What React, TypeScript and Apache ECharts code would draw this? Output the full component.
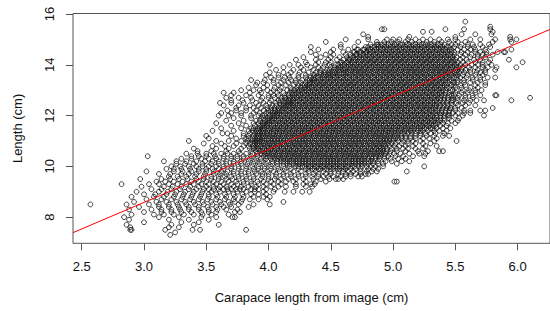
import React, { useEffect, useRef } from 'react';
import * as echarts from 'echarts';

const xTicks = [2.5, 3.0, 3.5, 4.0, 4.5, 5.0, 5.5, 6.0];
const yTicks = [8, 10, 12, 14, 16];
const xRange = [2.43, 6.26];
const yRange = [6.97, 16.02];
const fitIntercept = 2.31;
const fitSlope = 2.09;

// [length (cm), carapace lengths from image (cm)]
const upperBand: [number, number[]][] = [
  [15.7, [5.58]],
  [15.5, [5.78]],
  [15.4, [4.91, 4.93, 5.42, 5.57, 5.78]],
  [15.3, [5.24, 5.31, 5.80]],
  [15.2, [4.76, 5.55, 5.66, 5.79]],
  [15.1, [4.80, 5.13, 5.50, 5.94]],
  [15.0, [4.62, 4.80, 4.95, 5.00, 5.05, 5.12, 5.18, 5.24, 5.30, 5.37, 5.44, 5.50, 5.62, 5.70, 5.82, 5.94, 5.99]],
  [14.9, [4.46, 4.72, 4.87, 4.93, 4.99, 5.04, 5.10, 5.15, 5.21, 5.27, 5.33, 5.39, 5.45, 5.52, 5.58, 5.80, 5.95]],
  [14.8, [4.58, 4.82, 4.87, 4.91, 4.96, 5.01, 5.06, 5.11, 5.16, 5.21, 5.26, 5.31, 5.36, 5.41, 5.47, 5.55, 5.64, 5.77]],
  [14.7, [4.34, 4.58, 4.69, 4.78, 4.83, 4.88, 4.93, 4.98, 5.03, 5.08, 5.13, 5.18, 5.23, 5.28, 5.33, 5.38, 5.43, 5.49, 5.60, 5.78]],
  [14.6, [4.64, 4.71, 4.76, 4.80, 4.85, 4.90, 4.95, 5.00, 5.05, 5.10, 5.15, 5.20, 5.25, 5.30, 5.35, 5.40, 5.45, 5.52, 5.66, 5.95]],
  [14.5, [4.34, 4.50, 4.60, 4.68, 4.73, 4.78, 4.82, 4.87, 4.92, 4.97, 5.02, 5.07, 5.12, 5.17, 5.22, 5.27, 5.32, 5.37, 5.42, 5.47, 5.55, 5.75, 5.84, 5.89, 5.90]],
  [14.4, [4.52, 4.62, 4.70, 4.74, 4.79, 4.84, 4.89, 4.94, 4.99, 5.04, 5.09, 5.14, 5.19, 5.24, 5.29, 5.34, 5.39, 5.44, 5.49, 5.58, 5.68, 5.75]],
  [14.3, [4.42, 4.57, 4.66, 4.71, 4.76, 4.81, 4.86, 4.91, 4.96, 5.01, 5.06, 5.11, 5.16, 5.21, 5.26, 5.31, 5.36, 5.41, 5.46, 5.51, 5.62]],
  [14.2, [4.48, 4.60, 4.64, 4.68, 4.73, 4.78, 4.83, 4.88, 4.93, 4.98, 5.03, 5.08, 5.13, 5.18, 5.23, 5.28, 5.33, 5.38, 5.43, 5.48, 5.54, 5.65, 5.93]],
  [14.1, [4.30, 4.50, 4.58, 4.63, 4.67, 4.72, 4.77, 4.82, 4.87, 4.92, 4.97, 5.02, 5.07, 5.12, 5.17, 5.22, 5.27, 5.32, 5.37, 5.42, 5.47, 5.52, 5.60, 5.77, 6.04]],
  [14.0, [4.01, 4.17, 4.31, 4.45, 4.54, 4.59, 4.64, 4.69, 4.74, 4.79, 4.84, 4.89, 4.94, 4.99, 5.04, 5.09, 5.14, 5.19, 5.24, 5.29, 5.34, 5.39, 5.44, 5.49, 5.54, 5.63, 5.72]],
  [13.9, [4.44, 4.50, 4.56, 4.61, 4.66, 4.71, 4.76, 4.81, 4.86, 4.91, 4.96, 5.01, 5.06, 5.11, 5.16, 5.21, 5.26, 5.31, 5.36, 5.41, 5.46, 5.51, 5.56, 5.66, 5.83, 5.99]],
  [13.8, [4.36, 4.47, 4.52, 4.56, 4.60, 4.65, 4.70, 4.75, 4.80, 4.85, 4.90, 4.95, 5.00, 5.05, 5.10, 5.15, 5.20, 5.25, 5.30, 5.35, 5.40, 5.45, 5.50, 5.58, 5.68, 5.82]],
  [13.7, [4.01, 4.25, 4.38, 4.46, 4.51, 4.55, 4.60, 4.64, 4.69, 4.74, 4.79, 4.84, 4.89, 4.94, 4.99, 5.04, 5.09, 5.14, 5.19, 5.24, 5.29, 5.34, 5.39, 5.44, 5.49, 5.53, 5.62, 5.74]],
  [13.6, [4.30, 4.42, 4.46, 4.50, 4.55, 4.60, 4.65, 4.70, 4.75, 4.80, 4.85, 4.90, 4.95, 5.00, 5.05, 5.10, 5.15, 5.20, 5.25, 5.30, 5.35, 5.40, 5.45, 5.50, 5.56, 5.66]],
  [13.5, [4.13, 4.17, 4.30, 4.34, 4.38, 4.43, 4.48, 4.53, 4.58, 4.63, 4.68, 4.73, 4.78, 4.83, 4.88, 4.93, 4.98, 5.03, 5.08, 5.13, 5.18, 5.23, 5.28, 5.33, 5.38, 5.43, 5.49, 5.59, 5.70, 5.82]],
  [13.4, [3.97, 4.22, 4.31, 4.35, 4.40, 4.45, 4.50, 4.55, 4.60, 4.65, 4.70, 4.75, 4.80, 4.85, 4.90, 4.95, 5.00, 5.05, 5.10, 5.15, 5.20, 5.25, 5.30, 5.35, 5.40, 5.45, 5.52, 5.64]],
  [13.3, [3.91, 4.10, 4.26, 4.33, 4.37, 4.42, 4.47, 4.52, 4.57, 4.62, 4.67, 4.72, 4.77, 4.82, 4.87, 4.92, 4.97, 5.02, 5.07, 5.12, 5.17, 5.22, 5.27, 5.32, 5.37, 5.42, 5.48, 5.57, 5.68]],
  [13.2, [4.20, 4.27, 4.31, 4.36, 4.41, 4.46, 4.51, 4.56, 4.61, 4.66, 4.71, 4.76, 4.81, 4.86, 4.91, 4.96, 5.01, 5.06, 5.11, 5.16, 5.21, 5.26, 5.31, 5.36, 5.41, 5.47, 5.54, 5.74]],
  [13.1, [4.05, 4.18, 4.29, 4.33, 4.38, 4.43, 4.48, 4.53, 4.58, 4.63, 4.68, 4.73, 4.78, 4.83, 4.88, 4.93, 4.98, 5.03, 5.08, 5.13, 5.18, 5.23, 5.28, 5.33, 5.38, 5.43, 5.50, 5.62]],
  [13.0, [3.93, 4.04, 4.15, 4.21, 4.25, 4.30, 4.35, 4.40, 4.45, 4.50, 4.55, 4.60, 4.65, 4.70, 4.75, 4.80, 4.85, 4.90, 4.95, 5.00, 5.05, 5.10, 5.15, 5.20, 5.25, 5.30, 5.35, 5.40, 5.46, 5.56, 5.66]],
];

const middleBand: [number, number[]][] = [
  [12.9, [3.64, 4.12, 4.22, 4.27, 4.32, 4.37, 4.42, 4.47, 4.52, 4.57, 4.62, 4.67, 4.72, 4.77, 4.82, 4.87, 4.92, 4.97, 5.02, 5.07, 5.12, 5.17, 5.22, 5.27, 5.32, 5.37, 5.42, 5.50, 5.60]],
  [12.8, [4.00, 4.08, 4.19, 4.24, 4.29, 4.34, 4.39, 4.44, 4.49, 4.54, 4.59, 4.64, 4.69, 4.74, 4.79, 4.84, 4.89, 4.94, 4.99, 5.04, 5.09, 5.14, 5.19, 5.24, 5.29, 5.34, 5.39, 5.45, 5.53, 5.64, 5.82, 5.83]],
  [12.7, [3.95, 4.10, 4.17, 4.21, 4.26, 4.31, 4.36, 4.41, 4.46, 4.51, 4.56, 4.61, 4.66, 4.71, 4.76, 4.81, 4.86, 4.91, 4.96, 5.01, 5.06, 5.11, 5.16, 5.21, 5.26, 5.31, 5.36, 5.41, 5.48, 5.58, 6.10]],
  [12.6, [3.79, 3.87, 4.02, 4.14, 4.18, 4.23, 4.28, 4.33, 4.38, 4.43, 4.48, 4.53, 4.58, 4.63, 4.68, 4.73, 4.78, 4.83, 4.88, 4.93, 4.98, 5.03, 5.08, 5.13, 5.18, 5.23, 5.28, 5.33, 5.38, 5.44, 5.52, 5.62, 5.73, 5.95]],
  [12.5, [3.61, 3.90, 4.06, 4.12, 4.16, 4.20, 4.25, 4.30, 4.35, 4.40, 4.45, 4.50, 4.55, 4.60, 4.65, 4.70, 4.75, 4.80, 4.85, 4.90, 4.95, 5.00, 5.05, 5.10, 5.15, 5.20, 5.25, 5.30, 5.35, 5.40, 5.47, 5.56]],
  [12.4, [3.85, 3.98, 4.10, 4.14, 4.18, 4.23, 4.28, 4.33, 4.38, 4.43, 4.48, 4.53, 4.58, 4.63, 4.68, 4.73, 4.78, 4.83, 4.88, 4.93, 4.98, 5.03, 5.08, 5.13, 5.18, 5.23, 5.28, 5.33, 5.38, 5.44, 5.52, 5.66]],
  [12.3, [3.74, 3.94, 4.02, 4.08, 4.12, 4.17, 4.22, 4.27, 4.32, 4.37, 4.42, 4.47, 4.52, 4.57, 4.62, 4.67, 4.72, 4.77, 4.82, 4.87, 4.92, 4.97, 5.02, 5.07, 5.12, 5.17, 5.22, 5.27, 5.32, 5.37, 5.43, 5.50, 5.80]],
  [12.2, [3.67, 3.82, 3.96, 4.05, 4.09, 4.14, 4.19, 4.24, 4.29, 4.34, 4.39, 4.44, 4.49, 4.54, 4.59, 4.64, 4.69, 4.74, 4.79, 4.84, 4.89, 4.94, 4.99, 5.04, 5.09, 5.14, 5.19, 5.24, 5.29, 5.34, 5.39, 5.45, 5.62, 5.70, 5.74]],
  [12.1, [3.70, 3.88, 3.98, 4.03, 4.07, 4.12, 4.17, 4.22, 4.27, 4.32, 4.37, 4.42, 4.47, 4.52, 4.57, 4.62, 4.67, 4.72, 4.77, 4.82, 4.87, 4.92, 4.97, 5.02, 5.07, 5.12, 5.17, 5.22, 5.27, 5.32, 5.37, 5.42, 5.48, 5.57, 5.62]],
  [12.0, [3.60, 3.78, 3.92, 4.01, 4.05, 4.10, 4.15, 4.20, 4.25, 4.30, 4.35, 4.40, 4.45, 4.50, 4.55, 4.60, 4.65, 4.70, 4.75, 4.80, 4.85, 4.90, 4.95, 5.00, 5.05, 5.10, 5.15, 5.20, 5.25, 5.30, 5.35, 5.41, 5.50, 5.73]],
  [11.9, [3.72, 3.86, 3.94, 3.99, 4.03, 4.08, 4.13, 4.18, 4.23, 4.28, 4.33, 4.38, 4.43, 4.48, 4.53, 4.58, 4.63, 4.68, 4.73, 4.78, 4.83, 4.88, 4.93, 4.98, 5.03, 5.08, 5.13, 5.18, 5.23, 5.28, 5.33, 5.38, 5.45, 5.53]],
  [11.8, [3.66, 3.80, 3.90, 3.97, 4.01, 4.06, 4.11, 4.16, 4.21, 4.26, 4.31, 4.36, 4.41, 4.46, 4.51, 4.56, 4.61, 4.66, 4.71, 4.76, 4.81, 4.86, 4.91, 4.96, 5.01, 5.06, 5.11, 5.16, 5.21, 5.26, 5.31, 5.36, 5.41, 5.47]],
  [11.7, [3.58, 3.76, 3.88, 3.95, 3.99, 4.04, 4.09, 4.14, 4.19, 4.24, 4.29, 4.34, 4.39, 4.44, 4.49, 4.54, 4.59, 4.64, 4.69, 4.74, 4.79, 4.84, 4.89, 4.94, 4.99, 5.04, 5.09, 5.14, 5.19, 5.24, 5.29, 5.34, 5.40]],
  [11.6, [3.70, 3.82, 3.93, 3.97, 4.02, 4.07, 4.12, 4.17, 4.22, 4.27, 4.32, 4.37, 4.42, 4.47, 4.52, 4.57, 4.62, 4.67, 4.72, 4.77, 4.82, 4.87, 4.92, 4.97, 5.02, 5.07, 5.12, 5.17, 5.22, 5.27, 5.32, 5.38]],
  [11.5, [3.62, 3.78, 3.86, 3.91, 3.95, 4.00, 4.05, 4.10, 4.15, 4.20, 4.25, 4.30, 4.35, 4.40, 4.45, 4.50, 4.55, 4.60, 4.65, 4.70, 4.75, 4.80, 4.85, 4.90, 4.95, 5.00, 5.05, 5.10, 5.15, 5.20, 5.25, 5.30, 5.35]],
  [11.4, [3.55, 3.72, 3.84, 3.90, 3.94, 3.99, 4.04, 4.09, 4.14, 4.19, 4.24, 4.29, 4.34, 4.39, 4.44, 4.49, 4.54, 4.59, 4.64, 4.69, 4.74, 4.79, 4.84, 4.89, 4.94, 4.99, 5.04, 5.09, 5.14, 5.20, 5.28, 5.43]],
  [11.3, [3.63, 3.67, 3.80, 3.89, 3.93, 3.97, 4.02, 4.07, 4.12, 4.17, 4.22, 4.27, 4.32, 4.37, 4.42, 4.47, 4.52, 4.57, 4.62, 4.67, 4.72, 4.77, 4.82, 4.87, 4.92, 4.97, 5.02, 5.07, 5.12, 5.18, 5.26, 5.34, 5.41]],
  [11.2, [3.50, 3.70, 3.80, 3.88, 3.92, 3.96, 4.01, 4.06, 4.11, 4.16, 4.21, 4.26, 4.31, 4.36, 4.41, 4.46, 4.51, 4.56, 4.61, 4.66, 4.71, 4.76, 4.81, 4.86, 4.91, 4.96, 5.01, 5.07, 5.14, 5.22, 5.33, 5.45]],
  [11.1, [3.52, 3.74, 3.82, 3.87, 3.91, 3.95, 4.00, 4.05, 4.10, 4.15, 4.20, 4.25, 4.30, 4.35, 4.40, 4.45, 4.50, 4.55, 4.60, 4.65, 4.70, 4.75, 4.80, 4.85, 4.90, 4.95, 5.00, 5.04, 5.10, 5.18, 5.35]],
  [11.0, [3.36, 3.58, 3.68, 3.78, 3.87, 3.91, 3.95, 4.00, 4.05, 4.10, 4.15, 4.20, 4.25, 4.30, 4.35, 4.40, 4.45, 4.50, 4.55, 4.60, 4.65, 4.70, 4.75, 4.80, 4.85, 4.90, 4.95, 5.00, 5.08, 5.16, 5.51]],
  [10.9, [3.48, 3.62, 3.74, 3.82, 3.87, 3.91, 3.96, 4.01, 4.06, 4.11, 4.16, 4.21, 4.26, 4.31, 4.36, 4.41, 4.46, 4.51, 4.56, 4.61, 4.66, 4.71, 4.76, 4.81, 4.86, 4.91, 4.96, 5.02, 5.12, 5.24]],
  [10.8, [3.55, 3.65, 3.72, 3.80, 3.88, 3.92, 3.97, 4.02, 4.07, 4.12, 4.17, 4.22, 4.27, 4.32, 4.37, 4.42, 4.47, 4.52, 4.57, 4.62, 4.67, 4.72, 4.77, 4.82, 4.87, 4.92, 4.97, 5.05, 5.26]],
  [10.7, [3.40, 3.58, 3.68, 3.78, 3.85, 3.90, 3.95, 4.00, 4.05, 4.10, 4.15, 4.20, 4.25, 4.30, 4.35, 4.40, 4.45, 4.50, 4.55, 4.60, 4.65, 4.70, 4.75, 4.80, 4.85, 4.90, 4.95, 5.03, 5.18]],
  [10.6, [3.43, 3.54, 3.66, 3.76, 3.86, 3.93, 3.98, 4.03, 4.08, 4.13, 4.18, 4.23, 4.28, 4.33, 4.38, 4.43, 4.48, 4.53, 4.58, 4.63, 4.68, 4.73, 4.78, 4.83, 4.88, 4.92, 4.98, 5.10, 5.37, 5.40]],
  [10.5, [3.43, 3.56, 3.62, 3.72, 3.82, 3.91, 3.97, 4.02, 4.07, 4.12, 4.17, 4.22, 4.27, 4.32, 4.37, 4.42, 4.47, 4.52, 4.57, 4.62, 4.67, 4.72, 4.77, 4.82, 4.87, 4.91, 4.97, 5.06, 5.26]],
  [10.4, [3.03, 3.38, 3.50, 3.64, 3.75, 3.86, 3.96, 4.01, 4.06, 4.11, 4.16, 4.21, 4.26, 4.31, 4.36, 4.41, 4.46, 4.51, 4.56, 4.61, 4.66, 4.71, 4.76, 4.81, 4.86, 4.90, 4.96, 5.16, 5.25]],
  [10.3, [3.30, 3.46, 3.58, 3.70, 3.80, 3.90, 3.98, 4.05, 4.10, 4.15, 4.20, 4.25, 4.30, 4.35, 4.40, 4.45, 4.50, 4.55, 4.60, 4.65, 4.70, 4.75, 4.80, 4.86, 4.93, 5.04]],
  [10.2, [3.16, 3.34, 3.49, 3.60, 3.72, 3.84, 3.94, 4.03, 4.10, 4.15, 4.20, 4.25, 4.30, 4.35, 4.40, 4.45, 4.50, 4.55, 4.60, 4.65, 4.70, 4.75, 4.80, 4.84, 4.99, 5.07]],
  [10.1, [3.26, 3.40, 3.54, 3.66, 3.78, 3.88, 3.98, 4.07, 4.15, 4.20, 4.25, 4.30, 4.35, 4.40, 4.45, 4.50, 4.55, 4.60, 4.65, 4.70, 4.75, 4.80, 4.88]],
  [10.0, [3.22, 3.36, 3.47, 3.58, 3.70, 3.82, 3.92, 4.02, 4.12, 4.22, 4.27, 4.32, 4.37, 4.42, 4.47, 4.52, 4.57, 4.62, 4.67, 4.72, 4.79, 4.86, 5.25]],
];

const lowerBand: [number, number[]][] = [
  [9.9, [3.18, 3.30, 3.44, 3.55, 3.64, 3.76, 3.88, 3.97, 4.08, 4.18, 4.30, 4.35, 4.40, 4.45, 4.50, 4.55, 4.60, 4.66, 4.74, 4.88]],
  [9.8, [3.02, 3.24, 3.38, 3.50, 3.62, 3.72, 3.84, 3.94, 4.04, 4.14, 4.26, 4.38, 4.44, 4.50, 4.56, 4.64, 4.79, 4.87, 5.11]],
  [9.7, [3.12, 3.30, 3.42, 3.56, 3.66, 3.78, 3.90, 4.00, 4.12, 4.24, 4.36, 4.46, 4.56, 4.70, 4.78, 4.80]],
  [9.6, [3.20, 3.34, 3.48, 3.60, 3.70, 3.82, 3.95, 4.06, 4.18, 4.30, 4.40, 4.52, 4.66, 4.72, 4.75]],
  [9.5, [2.97, 3.14, 3.28, 3.42, 3.54, 3.66, 3.76, 3.88, 4.00, 4.10, 4.22, 4.36, 4.49, 4.54, 4.56]],
  [9.4, [3.10, 3.24, 3.38, 3.50, 3.62, 3.74, 3.86, 3.96, 4.08, 4.20, 5.01, 5.03]],
  [9.3, [2.82, 3.04, 3.20, 3.34, 3.46, 3.58, 3.70, 3.80, 3.92, 4.04, 4.22, 4.34, 4.37]],
  [9.2, [2.98, 3.16, 3.30, 3.44, 3.56, 3.66, 3.78, 3.90, 4.02, 4.14, 4.22]],
  [9.1, [3.06, 3.22, 3.36, 3.48, 3.52, 3.60, 3.64, 3.70, 3.74, 3.80, 3.86, 3.92, 4.05]],
  [9.0, [2.94, 3.12, 3.26, 3.40, 3.54, 3.68, 3.82, 3.96, 4.13, 4.33]],
  [8.9, [3.00, 3.18, 3.32, 3.46, 3.58, 3.72, 3.86, 3.98]],
  [8.8, [2.90, 3.08, 3.24, 3.38, 3.52, 3.66, 3.80, 3.96, 4.01]],
  [8.7, [3.02, 3.14, 3.30, 3.44, 3.58, 3.72, 3.85, 3.92, 3.99]],
  [8.6, [2.92, 3.10, 3.26, 3.40, 3.54, 3.68, 3.78, 4.12]],
  [8.5, [2.57, 2.86, 3.04, 3.20, 3.34, 3.48, 3.62, 3.76, 3.88, 4.01]],
  [8.4, [2.96, 3.12, 3.28, 3.44, 3.58, 3.70, 3.84]],
  [8.3, [2.88, 3.06, 3.22, 3.36, 3.52, 3.66, 3.75]],
  [8.2, [3.00, 3.14, 3.30, 3.46, 3.58, 3.73, 3.77]],
  [8.1, [2.90, 3.08, 3.24, 3.40, 3.54, 3.68]],
  [8.0, [2.84, 3.12, 3.28, 3.46, 3.58, 3.71, 3.73]],
  [7.9, [2.88, 3.20, 3.36, 3.52]],
  [7.8, [3.00, 3.30, 3.44]],
  [7.7, [2.86, 3.22, 3.40, 3.60]],
  [7.6, [2.89, 3.20, 3.28]],
  [7.5, [2.89, 2.90, 3.17, 3.39, 3.45, 3.82]],
  [7.4, [3.25]],
  [7.3, [3.21]],
];

const coreUpper: [number, number[]][] = [
  [14.8, [4.88, 4.93, 4.98, 5.03, 5.08, 5.13, 5.18, 5.23, 5.28, 5.33, 5.38]],
  [14.7, [4.80, 4.85, 4.90, 4.95, 5.00, 5.05, 5.10, 5.15, 5.20, 5.25, 5.30, 5.35, 5.40, 5.45]],
  [14.6, [4.72, 4.77, 4.82, 4.87, 4.92, 4.97, 5.02, 5.07, 5.12, 5.17, 5.22, 5.27, 5.32, 5.37, 5.42, 5.47]],
  [14.5, [4.69, 4.74, 4.79, 4.84, 4.89, 4.94, 4.99, 5.04, 5.09, 5.14, 5.19, 5.24, 5.29, 5.34, 5.39, 5.44, 5.49]],
  [14.4, [4.66, 4.71, 4.76, 4.81, 4.86, 4.91, 4.96, 5.01, 5.06, 5.11, 5.16, 5.21, 5.26, 5.31, 5.36, 5.41, 5.46]],
  [14.3, [4.63, 4.68, 4.73, 4.78, 4.83, 4.88, 4.93, 4.98, 5.03, 5.08, 5.13, 5.18, 5.23, 5.28, 5.33, 5.38, 5.43, 5.48]],
  [14.2, [4.65, 4.70, 4.75, 4.80, 4.85, 4.90, 4.95, 5.00, 5.05, 5.10, 5.15, 5.20, 5.25, 5.30, 5.35, 5.40, 5.45, 5.50]],
  [14.1, [4.59, 4.64, 4.69, 4.74, 4.79, 4.84, 4.89, 4.94, 4.99, 5.04, 5.09, 5.14, 5.19, 5.24, 5.29, 5.34, 5.39, 5.44, 5.49]],
  [14.0, [4.56, 4.61, 4.66, 4.71, 4.76, 4.81, 4.86, 4.91, 4.96, 5.01, 5.06, 5.11, 5.16, 5.21, 5.26, 5.31, 5.36, 5.41, 5.46, 5.51]],
  [13.9, [4.53, 4.58, 4.63, 4.68, 4.73, 4.78, 4.83, 4.88, 4.93, 4.98, 5.03, 5.08, 5.13, 5.18, 5.23, 5.28, 5.33, 5.38, 5.43, 5.48, 5.53]],
  [13.8, [4.49, 4.54, 4.58, 4.62, 4.67, 4.72, 4.77, 4.82, 4.87, 4.92, 4.97, 5.02, 5.07, 5.12, 5.17, 5.22, 5.27, 5.32, 5.37, 5.42, 5.47, 5.52]],
  [13.7, [4.42, 4.48, 4.53, 4.57, 4.62, 4.66, 4.71, 4.76, 4.81, 4.86, 4.91, 4.96, 5.01, 5.06, 5.11, 5.16, 5.21, 5.26, 5.31, 5.36, 5.41, 5.46, 5.51]],
  [13.6, [4.37, 4.44, 4.48, 4.52, 4.57, 4.62, 4.67, 4.72, 4.77, 4.82, 4.87, 4.92, 4.97, 5.02, 5.07, 5.12, 5.17, 5.22, 5.27, 5.32, 5.37, 5.42, 5.47, 5.52]],
  [13.5, [4.36, 4.40, 4.45, 4.50, 4.55, 4.60, 4.65, 4.70, 4.75, 4.80, 4.85, 4.90, 4.95, 5.00, 5.05, 5.10, 5.15, 5.20, 5.25, 5.30, 5.35, 5.40, 5.45, 5.51]],
  [13.4, [4.33, 4.37, 4.42, 4.47, 4.52, 4.57, 4.62, 4.67, 4.72, 4.77, 4.82, 4.87, 4.92, 4.97, 5.02, 5.07, 5.12, 5.17, 5.22, 5.27, 5.32, 5.37, 5.42, 5.47]],
  [13.3, [4.30, 4.35, 4.39, 4.44, 4.49, 4.54, 4.59, 4.64, 4.69, 4.74, 4.79, 4.84, 4.89, 4.94, 4.99, 5.04, 5.09, 5.14, 5.19, 5.24, 5.29, 5.34, 5.39, 5.44, 5.49]],
  [13.2, [4.29, 4.33, 4.38, 4.43, 4.48, 4.53, 4.58, 4.63, 4.68, 4.73, 4.78, 4.83, 4.88, 4.93, 4.98, 5.03, 5.08, 5.13, 5.18, 5.23, 5.28, 5.33, 5.38, 5.43, 5.49]],
  [13.1, [4.26, 4.31, 4.35, 4.40, 4.45, 4.50, 4.55, 4.60, 4.65, 4.70, 4.75, 4.80, 4.85, 4.90, 4.95, 5.00, 5.05, 5.10, 5.15, 5.20, 5.25, 5.30, 5.35, 5.40, 5.45]],
  [13.0, [4.23, 4.27, 4.32, 4.37, 4.42, 4.47, 4.52, 4.57, 4.62, 4.67, 4.72, 4.77, 4.82, 4.87, 4.92, 4.97, 5.02, 5.07, 5.12, 5.17, 5.22, 5.27, 5.32, 5.37, 5.42, 5.48]],
  [12.9, [4.19, 4.24, 4.29, 4.34, 4.39, 4.44, 4.49, 4.54, 4.59, 4.64, 4.69, 4.74, 4.79, 4.84, 4.89, 4.94, 4.99, 5.04, 5.09, 5.14, 5.19, 5.24, 5.29, 5.34, 5.39, 5.45]],
  [12.8, [4.16, 4.21, 4.26, 4.31, 4.36, 4.41, 4.46, 4.51, 4.56, 4.61, 4.66, 4.71, 4.76, 4.81, 4.86, 4.91, 4.96, 5.01, 5.06, 5.11, 5.16, 5.21, 5.26, 5.31, 5.36, 5.41, 5.47]],
  [12.7, [4.13, 4.19, 4.23, 4.28, 4.33, 4.38, 4.43, 4.48, 4.53, 4.58, 4.63, 4.68, 4.73, 4.78, 4.83, 4.88, 4.93, 4.98, 5.03, 5.08, 5.13, 5.18, 5.23, 5.28, 5.33, 5.38, 5.44]],
  [12.6, [4.10, 4.16, 4.20, 4.25, 4.30, 4.35, 4.40, 4.45, 4.50, 4.55, 4.60, 4.65, 4.70, 4.75, 4.80, 4.85, 4.90, 4.95, 5.00, 5.05, 5.10, 5.15, 5.20, 5.25, 5.30, 5.35, 5.41, 5.47]],
  [12.5, [4.09, 4.14, 4.18, 4.22, 4.27, 4.32, 4.37, 4.42, 4.47, 4.52, 4.57, 4.62, 4.67, 4.72, 4.77, 4.82, 4.87, 4.92, 4.97, 5.02, 5.07, 5.12, 5.17, 5.22, 5.27, 5.32, 5.37, 5.43]],
  [12.4, [4.06, 4.12, 4.16, 4.20, 4.25, 4.30, 4.35, 4.40, 4.45, 4.50, 4.55, 4.60, 4.65, 4.70, 4.75, 4.80, 4.85, 4.90, 4.95, 5.00, 5.05, 5.10, 5.15, 5.20, 5.25, 5.30, 5.35, 5.41]],
  [12.3, [4.05, 4.10, 4.14, 4.19, 4.24, 4.29, 4.34, 4.39, 4.44, 4.49, 4.54, 4.59, 4.64, 4.69, 4.74, 4.79, 4.84, 4.89, 4.94, 4.99, 5.04, 5.09, 5.14, 5.19, 5.24, 5.29, 5.34, 5.40, 5.46]],
  [12.2, [4.02, 4.07, 4.11, 4.16, 4.21, 4.26, 4.31, 4.36, 4.41, 4.46, 4.51, 4.56, 4.61, 4.66, 4.71, 4.76, 4.81, 4.86, 4.91, 4.96, 5.01, 5.06, 5.11, 5.16, 5.21, 5.26, 5.31, 5.36, 5.42]],
  [12.1, [4.00, 4.05, 4.09, 4.14, 4.19, 4.24, 4.29, 4.34, 4.39, 4.44, 4.49, 4.54, 4.59, 4.64, 4.69, 4.74, 4.79, 4.84, 4.89, 4.94, 4.99, 5.04, 5.09, 5.14, 5.19, 5.24, 5.29, 5.34, 5.39, 5.45]],
  [12.0, [3.97, 4.03, 4.07, 4.12, 4.17, 4.22, 4.27, 4.32, 4.37, 4.42, 4.47, 4.52, 4.57, 4.62, 4.67, 4.72, 4.77, 4.82, 4.87, 4.92, 4.97, 5.02, 5.07, 5.12, 5.17, 5.22, 5.27, 5.32, 5.38, 5.44]],
];

const coreLower: [number, number[]][] = [
  [11.9, [3.96, 4.01, 4.05, 4.10, 4.15, 4.20, 4.25, 4.30, 4.35, 4.40, 4.45, 4.50, 4.55, 4.60, 4.65, 4.70, 4.75, 4.80, 4.85, 4.90, 4.95, 5.00, 5.05, 5.10, 5.15, 5.20, 5.25, 5.30, 5.35, 5.41]],
  [11.8, [3.93, 3.99, 4.03, 4.08, 4.13, 4.18, 4.23, 4.28, 4.33, 4.38, 4.43, 4.48, 4.53, 4.58, 4.63, 4.68, 4.73, 4.78, 4.83, 4.88, 4.93, 4.98, 5.03, 5.08, 5.13, 5.18, 5.23, 5.28, 5.33, 5.38]],
  [11.7, [3.92, 3.97, 4.01, 4.06, 4.11, 4.16, 4.21, 4.26, 4.31, 4.36, 4.41, 4.46, 4.51, 4.56, 4.61, 4.66, 4.71, 4.76, 4.81, 4.86, 4.91, 4.96, 5.01, 5.06, 5.11, 5.16, 5.21, 5.26, 5.31, 5.36]],
  [11.6, [3.89, 3.95, 3.99, 4.04, 4.09, 4.14, 4.19, 4.24, 4.29, 4.34, 4.39, 4.44, 4.49, 4.54, 4.59, 4.64, 4.69, 4.74, 4.79, 4.84, 4.89, 4.94, 4.99, 5.04, 5.09, 5.14, 5.19, 5.24, 5.29, 5.34]],
  [11.5, [3.88, 3.93, 3.97, 4.02, 4.07, 4.12, 4.17, 4.22, 4.27, 4.32, 4.37, 4.42, 4.47, 4.52, 4.57, 4.62, 4.67, 4.72, 4.77, 4.82, 4.87, 4.92, 4.97, 5.02, 5.07, 5.12, 5.17, 5.22, 5.27, 5.32]],
  [11.4, [3.87, 3.92, 3.96, 4.01, 4.06, 4.11, 4.16, 4.21, 4.26, 4.31, 4.36, 4.41, 4.46, 4.51, 4.56, 4.61, 4.66, 4.71, 4.76, 4.81, 4.86, 4.91, 4.96, 5.01, 5.06, 5.11, 5.16, 5.22]],
  [11.3, [3.85, 3.91, 3.95, 3.99, 4.04, 4.09, 4.14, 4.19, 4.24, 4.29, 4.34, 4.39, 4.44, 4.49, 4.54, 4.59, 4.64, 4.69, 4.74, 4.79, 4.84, 4.89, 4.94, 4.99, 5.04, 5.09, 5.15]],
  [11.2, [3.84, 3.90, 3.94, 3.98, 4.03, 4.08, 4.13, 4.18, 4.23, 4.28, 4.33, 4.38, 4.43, 4.48, 4.53, 4.58, 4.63, 4.68, 4.73, 4.78, 4.83, 4.88, 4.93, 4.98, 5.03, 5.10]],
  [11.1, [3.84, 3.89, 3.93, 3.97, 4.02, 4.07, 4.12, 4.17, 4.22, 4.27, 4.32, 4.37, 4.42, 4.47, 4.52, 4.57, 4.62, 4.67, 4.72, 4.77, 4.82, 4.87, 4.92, 4.97, 5.02]],
  [11.0, [3.83, 3.89, 3.93, 3.97, 4.02, 4.07, 4.12, 4.17, 4.22, 4.27, 4.32, 4.37, 4.42, 4.47, 4.52, 4.57, 4.62, 4.67, 4.72, 4.77, 4.82, 4.87, 4.92, 4.97]],
  [10.9, [3.85, 3.89, 3.93, 3.98, 4.03, 4.08, 4.13, 4.18, 4.23, 4.28, 4.33, 4.38, 4.43, 4.48, 4.53, 4.58, 4.63, 4.68, 4.73, 4.78, 4.83, 4.88, 4.93, 4.99]],
  [10.8, [3.84, 3.90, 3.94, 3.99, 4.04, 4.09, 4.14, 4.19, 4.24, 4.29, 4.34, 4.39, 4.44, 4.49, 4.54, 4.59, 4.64, 4.69, 4.74, 4.79, 4.84, 4.89, 4.94]],
  [10.7, [3.88, 3.92, 3.97, 4.02, 4.07, 4.12, 4.17, 4.22, 4.27, 4.32, 4.37, 4.42, 4.47, 4.52, 4.57, 4.62, 4.67, 4.72, 4.77, 4.82, 4.87, 4.92]],
  [10.6, [3.90, 3.95, 4.00, 4.05, 4.10, 4.15, 4.20, 4.25, 4.30, 4.35, 4.40, 4.45, 4.50, 4.55, 4.60, 4.65, 4.70, 4.75, 4.80, 4.85, 4.90]],
  [10.5, [3.94, 3.99, 4.04, 4.09, 4.14, 4.19, 4.24, 4.29, 4.34, 4.39, 4.44, 4.49, 4.54, 4.59, 4.64, 4.69, 4.74, 4.79, 4.84, 4.89]],
  [10.4, [3.98, 4.03, 4.08, 4.13, 4.18, 4.23, 4.28, 4.33, 4.38, 4.43, 4.48, 4.53, 4.58, 4.63, 4.68, 4.73, 4.78, 4.83, 4.88]],
  [10.3, [4.02, 4.07, 4.12, 4.17, 4.22, 4.27, 4.32, 4.37, 4.42, 4.47, 4.52, 4.57, 4.62, 4.67, 4.72, 4.77, 4.83]],
  [10.2, [4.07, 4.12, 4.17, 4.22, 4.27, 4.32, 4.37, 4.42, 4.47, 4.52, 4.57, 4.62, 4.67, 4.72, 4.77, 4.82]],
  [10.1, [4.12, 4.17, 4.22, 4.27, 4.32, 4.37, 4.42, 4.47, 4.52, 4.57, 4.62, 4.67, 4.72, 4.77]],
  [10.0, [4.24, 4.29, 4.34, 4.39, 4.44, 4.49, 4.54, 4.59, 4.64, 4.69]],
  [9.9, [4.32, 4.37, 4.42, 4.47, 4.52, 4.57, 4.62]],
];

// points around the edges of the dense cloud
const haloUpper: [number, number[]][] = [
  [14.8, [5.50, 5.60, 5.70]],
  [14.7, [5.54, 5.65, 5.72]],
  [14.6, [4.40, 4.52, 5.57, 5.62, 5.74]],
  [14.5, [5.60, 5.66, 5.70]],
  [14.4, [4.38, 4.46, 5.54, 5.63, 5.72, 5.80]],
  [14.3, [4.28, 4.50, 5.56, 5.68, 5.74]],
  [14.2, [4.22, 4.38, 4.55, 5.59, 5.70, 5.78]],
  [14.1, [4.40, 4.46, 5.56, 5.66, 5.72]],
  [14.0, [4.24, 4.38, 4.49, 5.58, 5.68, 5.79]],
  [13.9, [4.12, 4.26, 4.34, 4.40, 5.61, 5.72, 5.76]],
  [13.8, [4.06, 4.20, 4.28, 4.42, 5.55, 5.62, 5.74]],
  [13.7, [4.12, 4.18, 4.32, 4.41, 5.57, 5.67, 5.70]],
  [13.6, [3.98, 4.08, 4.16, 4.24, 4.36, 5.60, 5.72]],
  [13.5, [4.02, 4.08, 4.24, 5.54, 5.64, 5.76]],
  [13.4, [3.86, 4.04, 4.12, 4.18, 4.27, 5.57, 5.70]],
  [13.3, [3.96, 4.04, 4.16, 4.22, 5.52, 5.62, 5.74]],
  [13.2, [3.90, 3.99, 4.08, 4.14, 4.24, 5.58, 5.66]],
  [13.1, [3.84, 3.96, 4.10, 4.23, 5.55, 5.68]],
  [13.0, [3.78, 3.88, 3.99, 4.09, 4.18, 5.51, 5.61, 5.71]],
  [12.9, [3.72, 3.85, 3.94, 4.02, 4.07, 4.17, 5.55, 5.66]],
  [12.8, [3.70, 3.82, 3.92, 4.04, 4.13, 5.49, 5.58, 5.70]],
  [12.7, [3.66, 3.76, 3.86, 4.00, 4.05, 4.14, 5.52, 5.64]],
  [12.6, [3.70, 3.94, 4.08, 5.48, 5.57, 5.67]],
  [12.5, [3.70, 3.80, 3.96, 4.01, 5.51, 5.61]],
  [12.4, [3.64, 3.76, 3.92, 4.03, 5.47, 5.58]],
  [12.3, [3.82, 3.88, 3.99, 5.46, 5.55]],
  [12.2, [3.74, 3.90, 4.00, 5.50, 5.57]],
  [12.1, [3.62, 3.78, 3.93, 5.52]],
  [12.0, [3.68, 3.86, 3.95, 5.45, 5.56]],
];

const haloLower: [number, number[]][] = [
  [11.8, [5.52]],
  [11.7, [5.44, 5.50]],
  [11.6, [5.43]],
  [11.5, [5.40, 5.46]],
  [11.4, [5.24, 5.33, 5.37]],
  [11.3, [5.22, 5.30]],
  [11.2, [5.18, 5.27, 5.40]],
  [11.1, [5.07, 5.14, 5.24, 5.29]],
  [11.0, [5.04, 5.12, 5.22, 5.33]],
  [10.9, [5.07, 5.18, 5.30]],
  [10.8, [5.01, 5.10, 5.16, 5.35]],
  [10.7, [4.99, 5.08, 5.12, 5.24]],
  [10.6, [4.95, 5.03, 5.20, 5.28]],
  [10.5, [4.94, 5.01, 5.13, 5.21]],
  [10.4, [4.93, 5.02, 5.08]],
  [10.3, [4.89, 4.98, 5.10]],
  [10.2, [4.88, 4.94, 5.13]],
  [10.1, [4.84, 4.92, 5.03]],
  [10.0, [4.75, 4.82, 4.92]],
  [9.9, [4.70, 4.80, 4.84]],
  [9.8, [4.60, 4.68, 4.74, 4.83]],
  [9.7, [4.40, 4.50, 4.62, 4.66, 4.74]],
  [9.6, [4.44, 4.48, 4.58, 4.62]],
  [9.5, [4.28, 4.42, 4.60]],
  [9.4, [4.30, 4.38, 4.46]],
  [9.3, [4.28]],
  [9.2, [4.30, 4.35]],
  [9.0, [4.20, 4.27]],
];

// extra points in the smaller cluster of short animals
const leftCluster: [number, number[]][] = [
  [10.5, [3.34, 3.50, 3.67, 3.77, 3.87]],
  [10.4, [3.44, 3.57, 3.70, 3.80, 3.91]],
  [10.3, [3.38, 3.52, 3.64, 3.75, 3.85, 3.94]],
  [10.2, [3.26, 3.42, 3.55, 3.66, 3.78, 3.89, 3.99]],
  [10.1, [3.33, 3.47, 3.60, 3.72, 3.83, 3.93, 4.03]],
  [10.0, [3.29, 3.42, 3.52, 3.64, 3.76, 3.87, 3.97, 4.07, 4.17]],
  [9.9, [3.24, 3.37, 3.50, 3.60, 3.70, 3.82, 3.92, 4.02, 4.13, 4.24]],
  [9.8, [3.31, 3.44, 3.56, 3.67, 3.78, 3.89, 3.99, 4.09, 4.20, 4.32]],
  [9.7, [3.21, 3.36, 3.49, 3.61, 3.72, 3.84, 3.95, 4.06, 4.18, 4.30]],
  [9.6, [3.27, 3.41, 3.54, 3.65, 3.76, 3.88, 4.00, 4.12, 4.24, 4.35]],
  [9.5, [3.21, 3.35, 3.48, 3.60, 3.71, 3.82, 3.94, 4.05, 4.16]],
  [9.4, [3.17, 3.31, 3.44, 3.56, 3.68, 3.80, 3.91, 4.02, 4.14]],
  [9.3, [3.12, 3.27, 3.40, 3.52, 3.64, 3.75, 3.86, 3.98, 4.10]],
  [9.2, [3.23, 3.37, 3.50, 3.61, 3.72, 3.84, 3.96, 4.08]],
  [9.1, [3.14, 3.29, 3.42, 3.56, 3.67, 3.77, 3.89, 3.98]],
  [9.0, [3.19, 3.33, 3.47, 3.61, 3.75, 3.89, 4.04]],
  [8.9, [3.09, 3.25, 3.39, 3.52, 3.65, 3.79, 3.92]],
  [8.8, [3.16, 3.31, 3.45, 3.59, 3.73, 3.88]],
  [8.7, [3.22, 3.37, 3.51, 3.65, 3.79]],
  [8.6, [3.18, 3.33, 3.47, 3.61, 3.73]],
  [8.5, [3.12, 3.27, 3.41, 3.55, 3.69]],
  [8.4, [3.20, 3.36, 3.51, 3.64]],
  [8.3, [3.14, 3.29, 3.44, 3.59]],
  [8.2, [3.22, 3.38, 3.52]],
  [8.1, [3.16, 3.32, 3.47]],
];

const FONT = "'Liberation Sans', Arial, Helvetica, sans-serif";

export default function App() {
  const ref = useRef<HTMLDivElement>(null);

  useEffect(() => {
    if (!ref.current) return;
    const chart = echarts.init(ref.current, undefined, { renderer: 'svg' });

    const points: number[][] = [];
    for (const band of [upperBand, middleBand, lowerBand, coreUpper, coreLower, haloUpper, haloLower, leftCluster]) {
      for (const [len, xs] of band) {
        for (const x of xs) points.push([x, len]);
      }
    }
    const fitLine = [
      [xRange[0], fitIntercept + fitSlope * xRange[0]],
      [xRange[1], fitIntercept + fitSlope * xRange[1]],
    ];

    chart.setOption({
      animation: false,
      backgroundColor: '#ffffff',
      textStyle: { fontFamily: FONT },
      grid: {
        left: 73,
        top: 13.5,
        right: -8,
        bottom: 67.7,
        show: true,
        borderColor: '#555',
        borderWidth: 1,
        backgroundColor: 'transparent',
      },
      xAxis: {
        type: 'value',
        min: xRange[0],
        max: xRange[1],
        splitLine: { show: false },
        axisLine: { show: false },
        axisTick: { show: true, length: 7, customValues: xTicks, lineStyle: { color: '#555', width: 1 } },
        axisLabel: {
          customValues: xTicks,
          formatter: (v: number) => v.toFixed(1),
          fontSize: 13,
          color: '#111',
          margin: 17,
          fontFamily: FONT,
        },
        name: 'Carapace length from image (cm)',
        nameLocation: 'middle',
        nameGap: 48,
        nameTextStyle: { fontSize: 13, color: '#111', fontFamily: FONT },
      },
      yAxis: {
        type: 'value',
        min: yRange[0],
        max: yRange[1],
        splitLine: { show: false },
        axisLine: { show: false },
        axisTick: { show: true, length: 7, customValues: yTicks, lineStyle: { color: '#555', width: 1 } },
        axisLabel: {
          customValues: yTicks,
          formatter: (v: number) => String(v),
          rotate: 90,
          fontSize: 13,
          color: '#111',
          margin: 17,
          fontFamily: FONT,
        },
        name: 'Length (cm)',
        nameLocation: 'middle',
        nameGap: 49,
        nameTextStyle: { fontSize: 13, color: '#111', fontFamily: FONT },
      },
      series: [
        {
          type: 'scatter',
          data: points,
          symbol: 'circle',
          symbolSize: 4.8,
          itemStyle: { color: 'rgba(0,0,0,0)', borderColor: '#111', borderWidth: 1 },
          silent: true,
          z: 2,
        },
        {
          type: 'line',
          data: fitLine,
          showSymbol: false,
          symbol: 'none',
          lineStyle: { color: '#ff0000', width: 1 },
          silent: true,
          clip: true,
          z: 3,
        },
      ],
    });

    return () => chart.dispose();
  }, []);

  return (
    <div
      ref={ref}
      style={{ position: 'fixed', left: 0, top: 0, width: 550, height: 311, background: '#fff' }}
    />
  );
}
